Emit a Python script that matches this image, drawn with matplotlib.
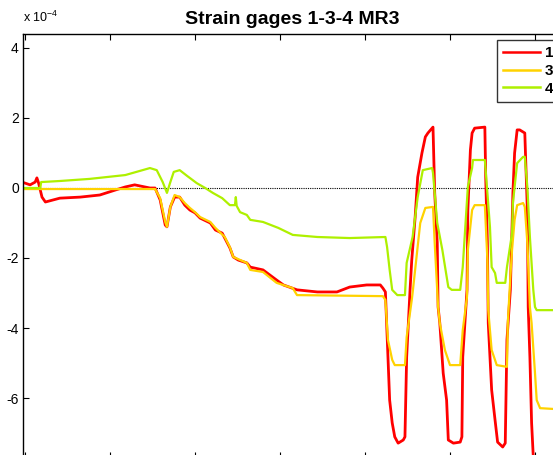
import matplotlib
matplotlib.use("Agg")
import matplotlib.pyplot as plt
from matplotlib.lines import Line2D

plt.rcParams['font.family'] = ['Liberation Sans', 'DejaVu Sans']
plt.rcParams['axes.unicode_minus'] = False

# ---------------- data (strain, units of 1e-4) ----------------
series_labels = ["1", "3", "4"]
series_colors = ["#FF0000", "#FFD200", "#AEF000"]

x_g1 = [0, 0.06, 0.12, 0.14, 0.16, 0.20, 0.24, 0.41, 0.65, 0.88, 1.06, 1.18, 1.29, 1.47, 1.53,
        1.59, 1.65, 1.67, 1.71, 1.76, 1.82, 1.88, 1.94, 2.00, 2.06, 2.18, 2.24, 2.32, 2.41, 2.45,
        2.51, 2.61, 2.65, 2.80, 2.96, 3.04, 3.20, 3.44, 3.67, 3.82, 4.02, 4.18, 4.21, 4.24, 4.29,
        4.32, 4.35, 4.39, 4.45, 4.47, 4.49, 4.53, 4.55, 4.59, 4.62, 4.67, 4.71, 4.74, 4.80, 4.82,
        4.85, 4.86, 4.88, 4.92, 4.96, 4.98, 5.04, 5.12, 5.14, 5.15, 5.20, 5.21, 5.24, 5.26, 5.29,
        5.41, 5.42, 5.44, 5.45, 5.49, 5.53, 5.56, 5.62, 5.65, 5.67, 5.71, 5.73, 5.74, 5.76, 5.79,
        5.82, 5.88, 5.91, 5.92, 5.94, 5.96, 5.98, 6.00]
y_g1 = [0.14, 0.09, 0.17, 0.29, 0.14, -0.26, -0.40, -0.29, -0.26, -0.20, -0.06, 0.03, 0.09, 0.0, 0.0,
        -0.34, -1.06, -1.11, -0.54, -0.26, -0.26, -0.49, -0.63, -0.71, -0.86, -1.00, -1.20, -1.29, -1.71, -1.97,
        -2.06, -2.14, -2.26, -2.34, -2.63, -2.77, -2.91, -2.97, -2.97, -2.83, -2.77, -2.77, -2.86, -2.97, -6.06,
        -6.71, -7.11, -7.29, -7.20, -7.11, -4.83, -2.91, -2.06, -0.83, 0.31, 1.00, 1.46, 1.57, 1.74, -0.14,
        -1.57, -3.40, -3.86, -5.29, -6.06, -7.20, -7.29, -7.26, -7.11, -4.83, -2.91, -0.63, 1.09, 1.57, 1.71,
        1.74, 0.31, -1.57, -3.86, -5.77, -6.63, -7.26, -7.40, -7.29, -4.34, -2.91, -1.11, -0.14, 1.00, 1.66,
        1.66, 1.57, -0.63, -3.40, -4.83, -6.71, -7.69, -8.34]

x_g3 = [0, 1.53, 1.59, 1.65, 1.67, 1.71, 1.76, 1.82, 1.88, 1.94, 2.00, 2.06, 2.18, 2.24, 2.35,
        2.41, 2.45, 2.61, 2.65, 2.80, 2.96, 3.15, 3.20, 4.21, 4.24, 4.27, 4.32, 4.35, 4.47, 4.49,
        4.55, 4.56, 4.65, 4.71, 4.80, 4.82, 4.86, 4.88, 4.94, 5.00, 5.12, 5.15, 5.20, 5.21, 5.26,
        5.29, 5.41, 5.44, 5.45, 5.49, 5.55, 5.67, 5.68, 5.71, 5.73, 5.76, 5.79, 5.86, 5.88, 5.91,
        5.94, 5.96, 6.00, 6.02, 6.06, 6.40]
y_g3 = [-0.03, -0.03, -0.29, -0.97, -1.11, -0.54, -0.20, -0.26, -0.43, -0.57, -0.69, -0.83, -0.97, -1.14, -1.40,
        -1.69, -1.97, -2.14, -2.34, -2.40, -2.71, -2.86, -3.06, -3.09, -3.20, -4.34, -4.91, -5.06, -5.06, -4.26,
        -3.20, -3.00, -1.00, -0.57, -0.54, -1.57, -3.40, -3.86, -4.63, -5.06, -5.06, -4.06, -3.11, -1.77, -0.63,
        -0.49, -0.49, -2.06, -3.49, -4.63, -5.06, -5.11, -3.86, -2.54, -1.77, -0.91, -0.49, -0.43, -0.54, -1.57,
        -3.40, -3.86, -5.29, -6.06, -6.29, -6.34]

x_g4 = [0, 0.18, 0.19, 0.41, 0.76, 1.18, 1.47, 1.55, 1.62, 1.67, 1.71, 1.75, 1.82, 1.91, 2.02,
        2.12, 2.21, 2.32, 2.41, 2.47, 2.48, 2.49, 2.53, 2.61, 2.65, 2.80, 2.98, 3.15, 3.44, 3.82,
        4.24, 4.26, 4.29, 4.32, 4.38, 4.47, 4.49, 4.56, 4.62, 4.68, 4.79, 4.80, 4.85, 4.91, 4.98,
        5.02, 5.12, 5.15, 5.21, 5.26, 5.27, 5.41, 5.44, 5.47, 5.49, 5.53, 5.55, 5.65, 5.67, 5.73,
        5.74, 5.79, 5.86, 5.88, 5.91, 5.94, 5.98, 6.00, 6.02, 6.40]
y_g4 = [0.0, 0.0, 0.17, 0.20, 0.26, 0.37, 0.57, 0.51, 0.17, -0.14, 0.17, 0.46, 0.51, 0.34, 0.14,
        0.0, -0.14, -0.29, -0.49, -0.49, -0.26, -0.51, -0.69, -0.77, -0.91, -0.97, -1.14, -1.34, -1.40, -1.43,
        -1.40, -1.69, -2.34, -2.91, -3.06, -3.06, -2.14, -1.40, -0.26, 0.51, 0.57, 0.43, -1.00, -1.77, -2.83,
        -2.91, -2.91, -2.26, 0.03, 0.57, 0.80, 0.80, -0.14, -1.11, -2.26, -2.43, -2.71, -2.71, -2.26, -1.29,
        -0.43, 0.71, 0.89, 0.89, 0.03, -1.40, -2.91, -3.40, -3.49, -3.49]

y_ticks = [-6, -4, -2, 0, 2, 4]
x_ticks = [0, 1, 2, 3, 4, 5, 6]
title_text = "Strain gages 1-3-4 MR3"

# ---------------- figure ----------------
W, H = 553, 455
fig = plt.figure(figsize=(W / 100, H / 100), dpi=100)
ax_l, ax_r, ax_t, ax_b = 23, 561, 34, 458
ax = fig.add_axes([ax_l / W, 1 - ax_b / H, (ax_r - ax_l) / W, (ax_b - ax_t) / H])

xs = [x_g1, x_g3, x_g4]
ys = [y_g1, y_g3, y_g4]
lws = [2.0, 1.6, 1.6]
for xv, yv, c, lw, lab in zip(xs, ys, series_colors, lws, series_labels):
    ax.plot(xv, yv, color=c, lw=lw, label=lab, solid_joinstyle='round')

ax.axhline(0, color='black', lw=0.8, ls=(0, (1, 1)), zorder=0.5)

ax.set_xlim((ax_l - 25) / 85, (ax_r - 25) / 85)
ax.set_ylim((188 - ax_b) / 35, (188 - ax_t) / 35)
ax.set_yticks(y_ticks)
ax.set_yticklabels([str(v) for v in y_ticks])
ax.set_xticks(x_ticks)
ax.set_xticklabels([])
ax.tick_params(direction='in', length=4, width=0.8, top=True, right=True,
               labelsize=10, pad=3)
for s in ax.spines.values():
    s.set_linewidth(1.0)

fig.text(23 / W, 1 - 22 / H, r"x 10$^{\mathregular{-4}}$", fontsize=9, ha='left', va='baseline')
ax.set_title(title_text, fontsize=14, fontweight='bold', pad=7)

handles = [Line2D([], [], color=c, lw=1.8) for c in series_colors]
leg = fig.legend(handles, series_labels, loc='upper left',
                 bbox_to_anchor=(497 / W, 1 - 40 / H), frameon=True, fancybox=False,
                 prop={'weight': 'bold', 'size': 11}, handlelength=2.4,
                 handletextpad=0.35, borderpad=0.4, labelspacing=0.25, borderaxespad=0)
leg.get_frame().set_edgecolor('black')
leg.get_frame().set_linewidth(1.0)

fig.savefig("out.png", dpi=100)
